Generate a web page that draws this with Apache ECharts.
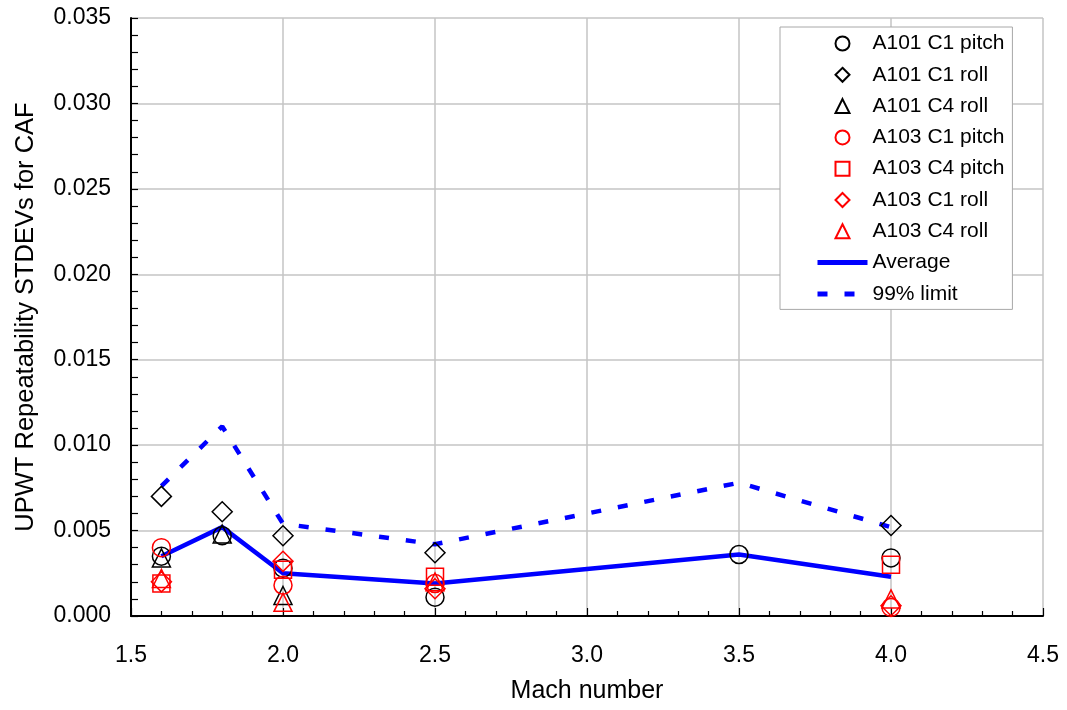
<!DOCTYPE html>
<html>
<head>
<meta charset="utf-8">
<script src="https://cdn.jsdelivr.net/npm/echarts@6/dist/echarts.min.js"></script>
<style>
html,body{margin:0;padding:0;background:#fff;}
#chart{width:1067px;height:710px;}
</style>
</head>
<body>
<div id="chart"></div>
<script>
// ---- data (Mach number, STDEV) ----
const xTicks = [1.5, 2.0, 2.5, 3.0, 3.5, 4.0, 4.5];
const a101C1Pitch = [[1.6,0.0035],[1.8,0.0047],[2.0,0.0028],[2.5,0.0011],[3.5,0.0036],[4.0,0.0034]];
const a101C1Roll  = [[1.6,0.0070],[1.8,0.0061],[2.0,0.0047],[2.5,0.0037],[4.0,0.0053]];
const a101C4Roll  = [[1.6,0.0034],[1.8,0.0048],[2.0,0.0012]];
const a103C1Pitch = [[1.6,0.0040],[2.0,0.0018],[2.5,0.0019],[4.0,0.0005]];
const a103C4Pitch = [[1.6,0.0019],[2.0,0.0027],[2.5,0.0023],[4.0,0.0030]];
const a103C1Roll  = [[1.6,0.0020],[2.0,0.0032],[2.5,0.0016],[4.0,0.0006]];
const a103C4Roll  = [[1.6,0.0022],[2.0,0.0008],[2.5,0.0020],[4.0,0.0010]];
const avgLine     = [[1.6,0.0035],[1.8,0.0052],[2.0,0.0025],[2.5,0.0019],[3.5,0.0036],[4.0,0.0023]];
const limitLine   = [[1.6,0.0076],[1.8,0.0111],[2.0,0.0054],[2.5,0.0042],[3.5,0.0078],[4.0,0.0052]];
const seriesNames = ['A101 C1 pitch','A101 C1 roll','A101 C4 roll','A103 C1 pitch','A103 C4 pitch','A103 C1 roll','A103 C4 roll','Average','99% limit'];

const FONT = '"Liberation Sans", Arial, sans-serif';
const ICON_DIAMOND = 'path://M0,-1L1,0L0,1L-1,0Z';
const ICON_TRIANGLE = 'path://M0,-1L1,1L-1,1Z';
const ICON_SQUARE = 'path://M-1,-1L1,-1L1,1L-1,1Z';
function scat(name, data, symbol, color, size) {
  return {
    name: name, type: 'scatter', data: data, symbol: symbol, symbolSize: size,
    z: 5,
    itemStyle: { color: 'rgba(0,0,0,0)', borderColor: color, borderWidth: 1.5, opacity: 1 },
    emphasis: { disabled: true }
  };
}
const hiddenDot = { color: 'rgba(0,0,0,0)', borderColor: 'rgba(0,0,0,0)', borderWidth: 0 };
const chart = echarts.init(document.getElementById('chart'), null, { renderer: 'canvas' });
chart.setOption({
  animation: false,
  textStyle: { fontFamily: FONT },
  grid: { left: 131, right: 24, top: 18, bottom: 94, containLabel: false },
  xAxis: {
    type: 'value', min: 1.5, max: 4.5, interval: 0.5,
    name: 'Mach number', nameLocation: 'middle', nameGap: 63,
    nameTextStyle: { fontSize: 25, color: '#000', fontFamily: FONT },
    axisLine: { show: true, onZero: false, lineStyle: { color: '#000', width: 2 } },
    axisTick: { show: true, inside: true, length: 8, lineStyle: { color: '#000', width: 1.2 } },
    minorTick: { show: true, splitNumber: 5, length: 5, lineStyle: { color: '#000', width: 1.2 } },
    axisLabel: { fontSize: 23, color: '#000', margin: 28, fontFamily: FONT, formatter: v => v.toFixed(1) },
    splitLine: { show: true, lineStyle: { color: '#c4c4c4', width: 1.5 } }
  },
  yAxis: {
    type: 'value', min: 0, max: 0.035, interval: 0.005,
    name: 'UPWT Repeatability STDEVs for CAF', nameLocation: 'middle', nameGap: 92, nameRotate: 90,
    nameTextStyle: { fontSize: 25.5, color: '#000', fontFamily: FONT },
    axisLine: { show: true, onZero: false, lineStyle: { color: '#000', width: 2 } },
    axisTick: { show: true, inside: true, length: 7, lineStyle: { color: '#000', width: 1.2 } },
    minorTick: { show: true, splitNumber: 5, length: 7, lineStyle: { color: '#000', width: 1.2 } },
    axisLabel: { fontSize: 23, color: '#000', margin: 20, fontFamily: FONT, formatter: v => v.toFixed(3) },
    splitLine: { show: true, lineStyle: { color: '#c4c4c4', width: 1.5 } }
  },
  legend: {
    orient: 'vertical', left: 780, top: 27,
    data: [
      { name: seriesNames[0], icon: 'circle' },
      { name: seriesNames[1], icon: ICON_DIAMOND },
      { name: seriesNames[2], icon: ICON_TRIANGLE },
      { name: seriesNames[3], icon: 'circle' },
      { name: seriesNames[4], icon: ICON_SQUARE },
      { name: seriesNames[5], icon: ICON_DIAMOND },
      { name: seriesNames[6], icon: ICON_TRIANGLE },
      { name: seriesNames[7], itemStyle: hiddenDot, lineStyle: { width: 5, color: '#0000ff', type: 'solid' } },
      { name: seriesNames[8], itemStyle: hiddenDot, lineStyle: { width: 5, color: '#0000ff', type: [10, 17] } }
    ],
    symbolKeepAspect: true,
    itemWidth: 50, itemHeight: 14, itemGap: 10.3,
    padding: [6, 8, 5, 35],
    borderColor: '#a8a8a8', borderWidth: 1, backgroundColor: '#fff',
    textStyle: { fontSize: 21, color: '#000', fontFamily: FONT, lineHeight: 21 },
    selectedMode: false
  },
  series: [
    scat(seriesNames[0], a101C1Pitch, 'circle', '#000', 18),
    scat(seriesNames[1], a101C1Roll, 'diamond', '#000', 20),
    scat(seriesNames[2], a101C4Roll, 'triangle', '#000', 18),
    scat(seriesNames[3], a103C1Pitch, 'circle', '#ff0000', 18),
    scat(seriesNames[4], a103C4Pitch, 'rect', '#ff0000', 17),
    scat(seriesNames[5], a103C1Roll, 'diamond', '#ff0000', 20),
    scat(seriesNames[6], a103C4Roll, 'triangle', '#ff0000', 18),
    { name: seriesNames[7], type: 'line', data: avgLine, symbol: 'none', z: 2,
      lineStyle: { color: '#0000ff', width: 4.5 }, itemStyle: { color: '#0000ff' } },
    { name: seriesNames[8], type: 'line', data: limitLine, symbol: 'none', z: 2,
      lineStyle: { color: '#0000ff', width: 4.5, type: [10, 17] }, itemStyle: { color: '#0000ff' } }
  ]
});
</script>
</body>
</html>
